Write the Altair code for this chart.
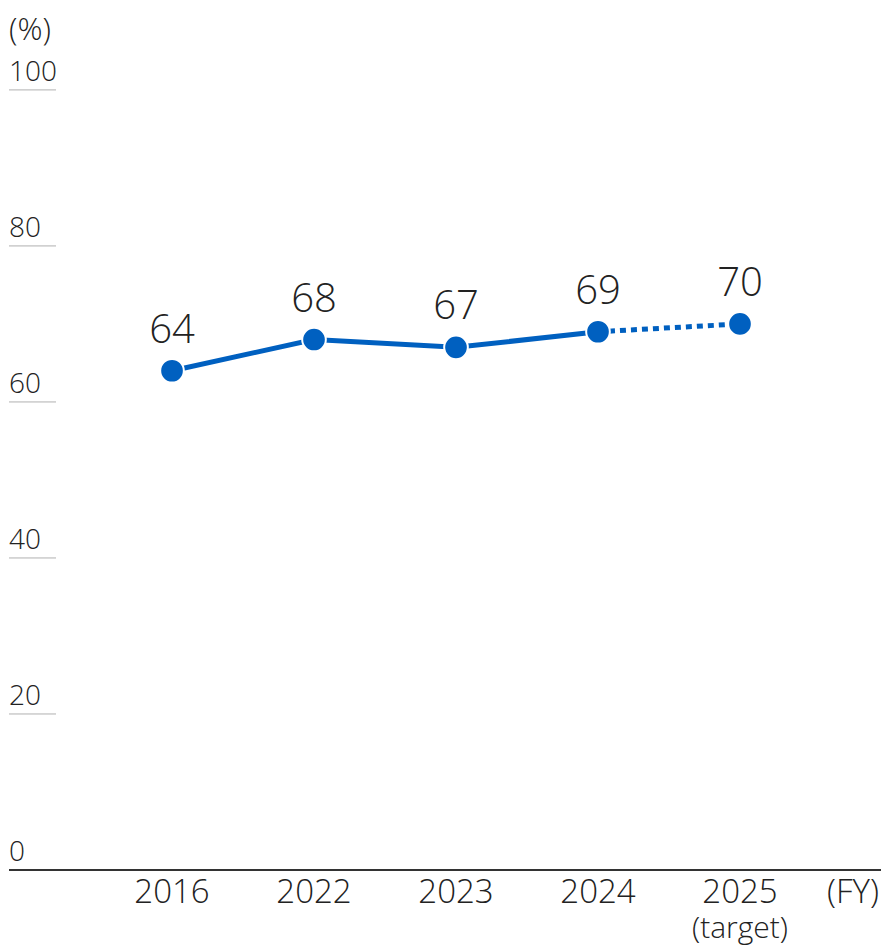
import altair as alt
import pandas as pd

years = ["2016", "2022", "2023", "2024", "2025"]
sublabels = ["", "", "", "", "(target)"]
values = [64, 68, 67, 69, 70]
y_ticks = [0, 20, 40, 60, 80, 100]
unit_y = "(%)"
unit_x = "(FY)"

BLUE = "#0060c0"
FONT = "Open Sans"
FW = 300
TXT = "#222222"

W, H = 872, 862
XDOM = [-1.148, 4.993]
YDOM = [0, 110.5]

idx = list(range(len(years)))
pts = pd.DataFrame({"i": idx, "year": years, "sub": sublabels, "v": values})
solid = pts[pts["i"] <= 3].assign(seg="actual")
dotted = pts[pts["i"] >= 3].assign(seg="target")
ticks = pd.DataFrame({"t": y_ticks})

xs = alt.Scale(domain=XDOM, nice=False, zero=False)
ys = alt.Scale(domain=YDOM, nice=False, zero=False)
X = alt.X("i:Q", scale=xs, axis=None)
Y = alt.Y("v:Q", scale=ys, axis=None)

tick_rules = alt.Chart(ticks).mark_rule(color="#b0b0b0", strokeWidth=1).encode(
    y=alt.Y("t:Q", scale=ys, axis=None), x=alt.value(0), x2=alt.value(47)
)
tick_text = alt.Chart(ticks).mark_text(
    align="left", baseline="bottom", dy=-3, fontSize=28, font=FONT, fontWeight=FW, color=TXT
).encode(y=alt.Y("t:Q", scale=ys, axis=None), x=alt.value(0), text="t:Q")

unit_y_text = alt.Chart(pd.DataFrame({"u": [unit_y]})).mark_text(
    align="left", baseline="middle", fontSize=31, font=FONT, fontWeight=FW, color=TXT
).encode(x=alt.value(0), y=alt.value(23), text="u:N")

axis_line = alt.Chart(pd.DataFrame({"t": [0]})).mark_rule(color="#333333", strokeWidth=2).encode(
    y=alt.Y("t:Q", scale=ys, axis=None), x=alt.value(0), x2=alt.value(W)
)

line_solid = alt.Chart(solid).mark_line(color=BLUE, strokeWidth=5).encode(x=X, y=Y)
line_dot = alt.Chart(dotted).mark_line(color=BLUE, strokeWidth=5, strokeDash=[6, 5]).encode(x=X, y=Y)

points = alt.Chart(pts).mark_point(
    filled=True, shape="circle", size=560, color=BLUE, stroke="white", strokeWidth=2, opacity=1
).encode(x=X, y=Y)

val_text = alt.Chart(pts).mark_text(
    baseline="alphabetic", dy=-28, fontSize=40, font=FONT, fontWeight=FW, color=TXT
).encode(x=X, y=Y, text="v:Q")

year_text = alt.Chart(pts).mark_text(
    baseline="middle", fontSize=33, font=FONT, fontWeight=FW, color=TXT
).encode(x=X, y=alt.value(H + 23), text="year:N")

sub_text = alt.Chart(pts).mark_text(
    baseline="middle", fontSize=30, font=FONT, fontWeight=FW, color=TXT
).encode(x=X, y=alt.value(H + 59), text="sub:N")

unit_x_text = alt.Chart(pd.DataFrame({"u": [unit_x]})).mark_text(
    align="center", baseline="middle", fontSize=33, font=FONT, fontWeight=FW, color=TXT
).encode(x=alt.value(844), y=alt.value(H + 23), text="u:N")

chart = alt.layer(
    tick_rules, tick_text, unit_y_text, axis_line, line_solid, line_dot, points,
    val_text, year_text, sub_text, unit_x_text
).properties(
    width=W, height=H, padding={"left": 0, "top": 0, "right": 0, "bottom": 6}
).configure_view(stroke=None)

chart.save("out.html", embed_options={"renderer": "svg", "actions": False})
